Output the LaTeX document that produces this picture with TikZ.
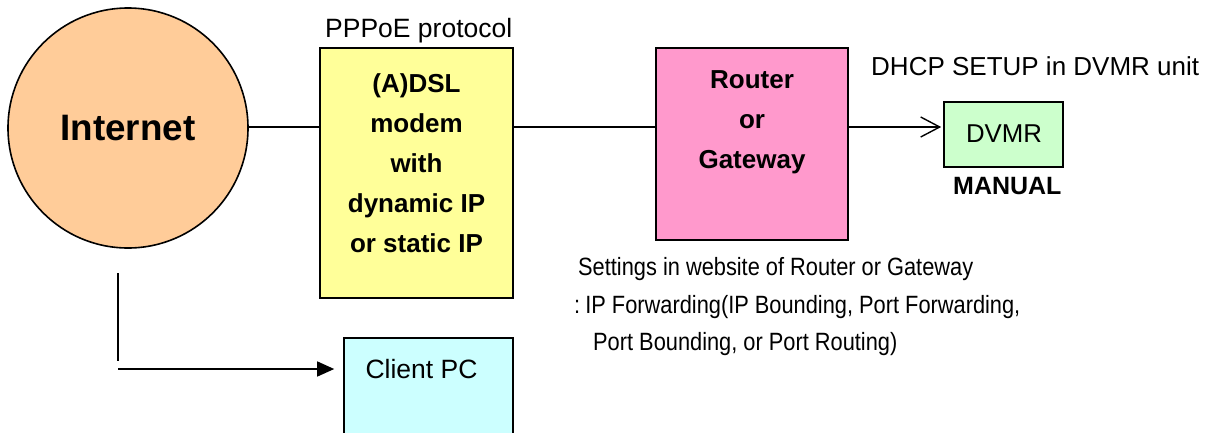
\documentclass[tikz,border=0pt]{standalone}
\usepackage{fontspec}
\setmainfont{Liberation Sans}
\newfontfamily\narrowfont[FakeStretch=0.872]{Liberation Sans}
\usetikzlibrary{arrows.meta}
\definecolor{peach}{HTML}{FFCC99}
\definecolor{lyellow}{HTML}{FFFF99}
\definecolor{lpink}{HTML}{FF99CC}
\definecolor{lgreen}{HTML}{CCFFCC}
\definecolor{lcyan}{HTML}{CCFFFF}
\tikzset{
  boxnode/.style={draw=black, line width=1.6pt, rectangle, inner sep=0pt},
  conn/.style={draw=black, line width=1.4pt},
  boldlbl/.style={font=\bfseries\fontsize{26}{40}\selectfont, align=center, inner sep=0pt},
  plainlbl/.style={inner sep=0pt},
  narrowlbl/.style={font=\narrowfont\fontsize{25}{30}\selectfont, inner sep=0pt, anchor=base west}
}
\begin{document}
\begin{tikzpicture}[x=1pt,y=-1pt]
\useasboundingbox (0,0) rectangle (1215,432);
\clip (0,0) rectangle (1215,432);
% Internet
\node[circle, draw=black, line width=1.6pt, fill=peach, minimum size=240pt, inner sep=0pt,
      font=\bfseries\fontsize{36.8}{44}\selectfont] (inet) at (128,128) {Internet};
% ADSL modem
\node[boxnode, fill=lyellow, minimum width=193pt, minimum height=250pt] (modem) at (416.5,173) {};
\node[boldlbl] (modemtxt) at (416.5,163) {(A)DSL\\modem\\with\\dynamic IP\\or static IP};
\node[plainlbl, anchor=base west, font=\fontsize{26.5}{30}\selectfont] (pppoe) at (325,37) {PPPoE protocol};
% Router
\node[boxnode, fill=lpink, minimum width=192pt, minimum height=192pt] (router) at (752,144) {};
\node[boldlbl] (routertxt) at (752,122.5) {Router\\or\\Gateway};
% DVMR
\node[boxnode, fill=lgreen, minimum width=119pt, minimum height=65pt] (dvmr) at (1003.5,134.5) {};
\node[plainlbl, font=\fontsize{25.8}{30}\selectfont] (dvmrtxt) at (1004,134) {DVMR};
\node[plainlbl, anchor=west, font=\bfseries\fontsize{25}{30}\selectfont] (manual) at (953,186) {MANUAL};
\node[plainlbl, anchor=base west, font=\fontsize{26}{30}\selectfont] (dhcp) at (871,75) {DHCP SETUP in DVMR unit};
% Settings text
\node[narrowlbl] (set1) at (578,275) {Settings in website of Router or Gateway};
\node[narrowlbl] (set2) at (574,313) {:\hspace{-3pt} IP Forwarding(IP Bounding, Port Forwarding,};
\node[narrowlbl] (set3) at (593,350) {Port Bounding, or Port Routing)};
% Client PC
\node[boxnode, fill=lcyan, minimum width=169pt, minimum height=112pt] (client) at (428.5,394) {};
\node[plainlbl, font=\fontsize{26.5}{30}\selectfont] (clienttxt) at (421.5,369) {Client PC};
% connectors
\coordinate (vtop) at (118,273);
\coordinate (vbot) at (118,361);
\coordinate (hstart) at (118,369);
\draw[conn] (inet.east |- 0,127) -- (modem.west |- 0,127);
\draw[conn] (modem.east |- 0,127) -- (router.west |- 0,127);
\draw[conn, -{Straight Barb[length=19pt, width=20pt, line width=1.4pt]}, shorten >=2pt] (router.east |- 0,127) -- (dvmr.west |- 0,127);
\draw[conn] (vtop) -- (vbot);
\draw[conn, -{Triangle[length=17pt, width=15pt]}, shorten >=9pt] (hstart) -- (hstart -| client.west);
\end{tikzpicture}
\end{document}
